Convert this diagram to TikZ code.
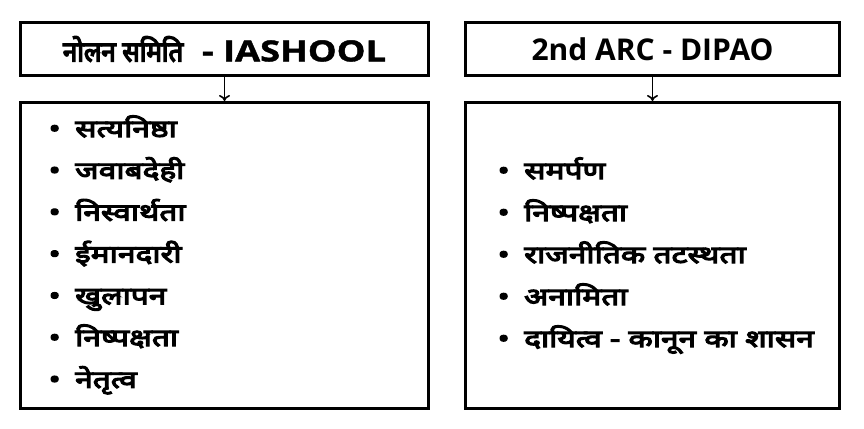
\documentclass[tikz,border=0pt]{standalone}
\usepackage{fontspec}
\setmainfont{Open Sans}
\newfontfamily\latinwide{Open Sans}[FakeStretch=1.25, BoldFeatures={FakeBold=1.5}]
\newfontfamily\hindi{Noto Sans}[Script=Devanagari, BoldFont=*, BoldFeatures={FakeBold=5, FakeStretch=1.32}]
\newfontfamily\hindihead{Noto Sans}[Script=Devanagari, BoldFont=*, BoldFeatures={FakeBold=5, FakeStretch=0.92}]
\usetikzlibrary{positioning,arrows.meta}

\tikzset{
    headbox/.style={draw, line width=3pt, minimum width=#1, minimum height=53pt,
        inner sep=0pt, font={\bfseries\fontsize{29pt}{34pt}\selectfont}},
    listbox/.style={draw, line width=3pt, minimum width=#1, minimum height=306pt,
        inner sep=0pt},
    listitem/.style={anchor=base west, inner sep=0pt,
        font={\hindi\bfseries\fontsize{24pt}{28pt}\selectfont}},
    down/.style={-{To[length=6pt,width=11pt]}, line width=1.6pt}
}
\newcommand{\bul}[1]{\makebox[26.5pt][l]{\textbullet}#1}

\begin{document}
\begin{tikzpicture}[x=1pt,y=-1pt]
    % Fix the page size
    \fill[white] (0,0) rectangle (864,428);
    \useasboundingbox (0,0) rectangle (864,428);
    % Left column
    \node[headbox=408pt] (nolan) at (224.5,49) {{\hindihead\fontsize{28pt}{34pt}\selectfont नोलन समिति}{\latinwide\ \ - IASHOOL}};
    \node[listbox=408pt, below=24pt of nolan] (nolanlist) {};
    \draw[down] (nolan.south) -- (nolanlist.north);
    \foreach \txt [count=\i] in {सत्यनिष्ठा, जवाबदेही, निस्वार्थता, ईमानदारी, खुलापन, निष्पक्षता, नेतृत्व}
        \node[listitem] (n\i) at (48.5,{137+41.8*(\i-1)}) {\bul{\txt}};
    % Right column
    \node[headbox=374pt, font={\bfseries\fontsize{30pt}{34pt}\selectfont}] (arc) at (652.5,49) {2nd ARC - DIPAO};
    \node[listbox=374pt, below=24pt of arc] (arclist) {};
    \draw[down] (arc.south) -- (arclist.north);
    \foreach \txt [count=\i] in {समर्पण, निष्पक्षता, राजनीतिक तटस्थता, अनामिता, दायित्व - कानून का शासन}
        \node[listitem] (a\i) at (497.5,{179+42*(\i-1)}) {\bul{\txt}};
\end{tikzpicture}
\end{document}
